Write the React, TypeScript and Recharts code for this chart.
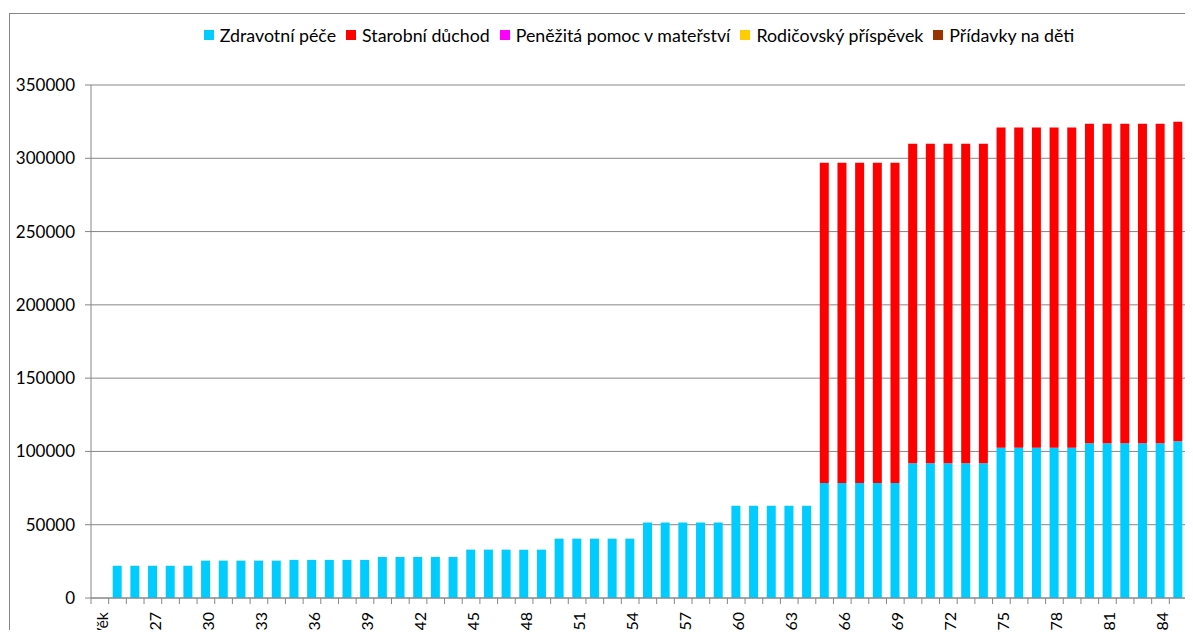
import React from "react";
import { BarChart, Bar, XAxis, YAxis, CartesianGrid } from "recharts";

const categories = [
  "Věk",
  "25", "26", "27", "28", "29", "30", "31", "32", "33", "34",
  "35", "36", "37", "38", "39", "40", "41", "42", "43", "44",
  "45", "46", "47", "48", "49", "50", "51", "52", "53", "54",
  "55", "56", "57", "58", "59", "60", "61", "62", "63", "64",
  "65", "66", "67", "68", "69", "70", "71", "72", "73", "74",
  "75", "76", "77", "78", "79", "80", "81", "82", "83", "84",
  "85",
];

const zdravotniPece: (number | null)[] = [
  null,
  22000, 22000, 22000, 22000, 22000,
  25500, 25500, 25500, 25500, 25500,
  26000, 26000, 26000, 26000, 26000,
  28000, 28000, 28000, 28000, 28000,
  33000, 33000, 33000, 33000, 33000,
  40500, 40500, 40500, 40500, 40500,
  51500, 51500, 51500, 51500, 51500,
  63000, 63000, 63000, 63000, 63000,
  78500, 78500, 78500, 78500, 78500,
  92000, 92000, 92000, 92000, 92000,
  102500, 102500, 102500, 102500, 102500,
  105500, 105500, 105500, 105500, 105500,
  107000,
];

const starobniDuchod: (number | null)[] = [
  null,
  null, null, null, null, null,
  null, null, null, null, null,
  null, null, null, null, null,
  null, null, null, null, null,
  null, null, null, null, null,
  null, null, null, null, null,
  null, null, null, null, null,
  null, null, null, null, null,
  218500, 218500, 218500, 218500, 218500,
  218000, 218000, 218000, 218000, 218000,
  218500, 218500, 218500, 218500, 218500,
  218000, 218000, 218000, 218000, 218000,
  218000,
];

const penezitaPomoc: (number | null)[] = [];
const rodicovskyPrispevek: (number | null)[] = [];
const pridavkyNaDeti: (number | null)[] = [];

const yTicks = [0, 50000, 100000, 150000, 200000, 250000, 300000, 350000];

const series = [
  { key: "zdravotni", name: "Zdravotní péče", color: "#00CCFF", values: zdravotniPece },
  { key: "starobni", name: "Starobní důchod", color: "#FF0000", values: starobniDuchod },
  { key: "penezita", name: "Peněžitá pomoc v mateřství", color: "#FF00FF", values: penezitaPomoc },
  { key: "rodicovsky", name: "Rodičovský příspěvek", color: "#FFCC00", values: rodicovskyPrispevek },
  { key: "pridavky", name: "Přídavky na děti", color: "#993300", values: pridavkyNaDeti },
];

const data = categories.map((cat, i) => {
  const row: Record<string, any> = { cat };
  series.forEach((s) => {
    row[s.key] = s.values[i] ?? null;
  });
  return row;
});

const FONT = "Lato, 'Noto Sans', sans-serif";
const AXIS = "#868686";

const XTick = (props: any) => {
  const { x, y, payload, index, width, visibleTicksCount } = props;
  const half =
    payload && typeof payload.offset === "number" && payload.offset > 0
      ? payload.offset
      : width / visibleTicksCount / 2;
  const lx = x - half;
  const isLast = index === visibleTicksCount - 1;
  return (
    <g>
      <line x1={lx} x2={lx} y1={y} y2={y + 6} stroke={AXIS} strokeWidth={1} />
      {isLast && (
        <line x1={x + half} x2={x + half} y1={y} y2={y + 6} stroke={AXIS} strokeWidth={1} />
      )}
      {index % 3 === 0 && (
        <text
          transform={`translate(${x + 1.5},${y + 14}) rotate(-90)`}
          textAnchor="end"
          dominantBaseline="central"
          fontSize={16}
          fontFamily={FONT}
          fill="#000"
        >
          {payload.value}
        </text>
      )}
    </g>
  );
};

export default function App() {
  return (
    <div
      style={{
        position: "relative",
        width: 1185,
        height: 630,
        marginBottom: -8,
        overflow: "hidden",
        fontFamily: FONT,
        background: "#fff",
      }}
    >
      <div
        style={{
          position: "absolute",
          left: 1,
          top: 5,
          width: 1400,
          height: 900,
          border: `1px solid ${AXIS}`,
          boxSizing: "border-box",
        }}
      />
      <div
        style={{
          position: "absolute",
          left: 31,
          top: 17,
          width: 1200,
          display: "flex",
          justifyContent: "center",
          alignItems: "center",
          fontSize: 17.8,
          lineHeight: "20px",
          color: "#000",
          whiteSpace: "nowrap",
        }}
      >
        {series.map((s, i) => (
          <div
            key={s.key}
            style={{ display: "flex", alignItems: "center", marginLeft: i === 0 ? 0 : 10 }}
          >
            <span
              style={{
                display: "inline-block",
                width: 10,
                height: 10,
                background: s.color,
                marginRight: 6,
              }}
            />
            <span>{s.name}</span>
          </div>
        ))}
      </div>
      <div style={{ position: "absolute", left: 0, top: 0 }}>
        <BarChart
          width={1185}
          height={630}
          data={data}
          margin={{ top: 77, right: 6, left: 0, bottom: 0 }}
          barSize={9}
        >
          <CartesianGrid vertical={false} stroke={AXIS} strokeWidth={1} />
          <XAxis
            dataKey="cat"
            height={40}
            interval={0}
            tickSize={0}
            tickMargin={0}
            tickLine={false}
            axisLine={{ stroke: AXIS, strokeWidth: 1 }}
            tick={<XTick />}
          />
          <YAxis
            width={83}
            domain={[0, 350000]}
            ticks={yTicks}
            interval={0}
            allowDataOverflow
            tickSize={6}
            tickMargin={10}
            axisLine={{ stroke: AXIS, strokeWidth: 1 }}
            tickLine={{ stroke: AXIS, strokeWidth: 1 }}
            tick={{ fontSize: 17, fontFamily: FONT, fill: "#000" }}
          />
          {series.map((s) => (
            <Bar
              key={s.key}
              dataKey={s.key}
              name={s.name}
              stackId="a"
              fill={s.color}
              isAnimationActive={false}
            />
          ))}
        </BarChart>
      </div>
    </div>
  );
}
